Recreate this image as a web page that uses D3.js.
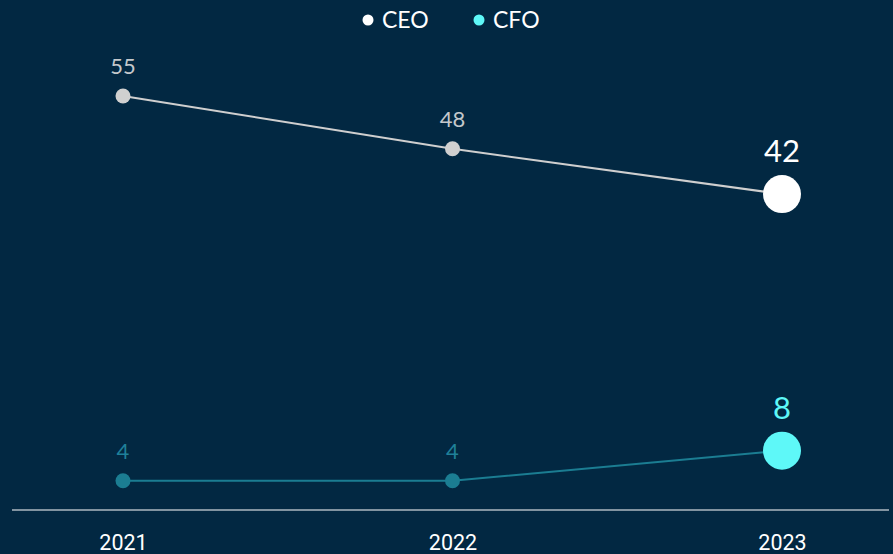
<!DOCTYPE html>
<html>
<head>
<meta charset="utf-8">
<script src="https://cdn.jsdelivr.net/npm/d3@7"></script>
<style>
  body { margin: 0; background: #022842; }
  svg { display: block; }
</style>
</head>
<body>
<div id="chart"></div>
<script>
// data
var years = ["2021", "2022", "2023"];
var ceo = [55, 48, 42];
var cfo = [4, 4, 8];

var W = 893, H = 554;

var svg = d3.select("#chart").append("svg")
    .attr("width", W)
    .attr("height", H)
    .style("background", "#022842");

var x = d3.scalePoint()
    .domain(years)
    .range([123, 782]);

var y = d3.scaleLinear()
    .domain([0, 55])
    .range([511, 96]);

// baseline axis
var axis = svg.append("g")
    .attr("transform", "translate(0,510)")
    .call(d3.axisBottom(x).tickSize(0).tickPadding(25));
axis.select(".domain").remove();
axis.append("line")
    .attr("x1", 12).attr("x2", 889)
    .attr("stroke", "#aeb8c2")
    .attr("stroke-width", 1.5);
axis.selectAll("text")
    .attr("fill", "#ffffff")
    .style("font-family", "Roboto, sans-serif")
    .style("font-size", "21.5px");

var series = [
    { name: "CEO", values: ceo, line: "#cfcfcf", dot: "#d0d0d0", last: "#ffffff", label: "#c4c8cc" },
    { name: "CFO", values: cfo, line: "#1b7d92", dot: "#1b7d92", last: "#5ef8f8", label: "#1f8099" }
];

var line = d3.line()
    .x(function (d, i) { return x(years[i]); })
    .y(function (d) { return y(d); });

series.forEach(function (s) {
    var g = svg.append("g");
    g.append("path")
        .attr("d", line(s.values))
        .attr("fill", "none")
        .attr("stroke", s.line)
        .attr("stroke-width", 2);

    var n = s.values.length;
    g.selectAll("circle")
        .data(s.values)
        .enter().append("circle")
        .attr("cx", function (d, i) { return x(years[i]); })
        .attr("cy", function (d) { return y(d); })
        .attr("r", function (d, i) { return i == n - 1 ? 19 : 7.5; })
        .attr("fill", function (d, i) { return i == n - 1 ? s.last : s.dot; });

    g.selectAll("text")
        .data(s.values)
        .enter().append("text")
        .text(function (d) { return d; })
        .attr("x", function (d, i) { return x(years[i]); })
        .attr("y", function (d, i) { return i == n - 1 ? y(d) - 32 : y(d) - 22; })
        .attr("text-anchor", "middle")
        .attr("fill", function (d, i) { return i == n - 1 ? s.last : s.label; })
        .style("font-family", "Lato, sans-serif")
        .style("font-size", function (d, i) { return i == n - 1 ? "31px" : "22px"; });
});

// legend
var legend = svg.append("g");
var lx = [368, 479];
series.forEach(function (s, i) {
    legend.append("circle")
        .attr("cx", lx[i]).attr("cy", 20).attr("r", 5.5)
        .attr("fill", s.last);
    legend.append("text")
        .attr("x", lx[i] + 14).attr("y", 28)
        .text(s.name)
        .attr("fill", "#ffffff")
        .style("font-family", "Lato, sans-serif")
        .style("font-size", "23px");
});
</script>
</body>
</html>
